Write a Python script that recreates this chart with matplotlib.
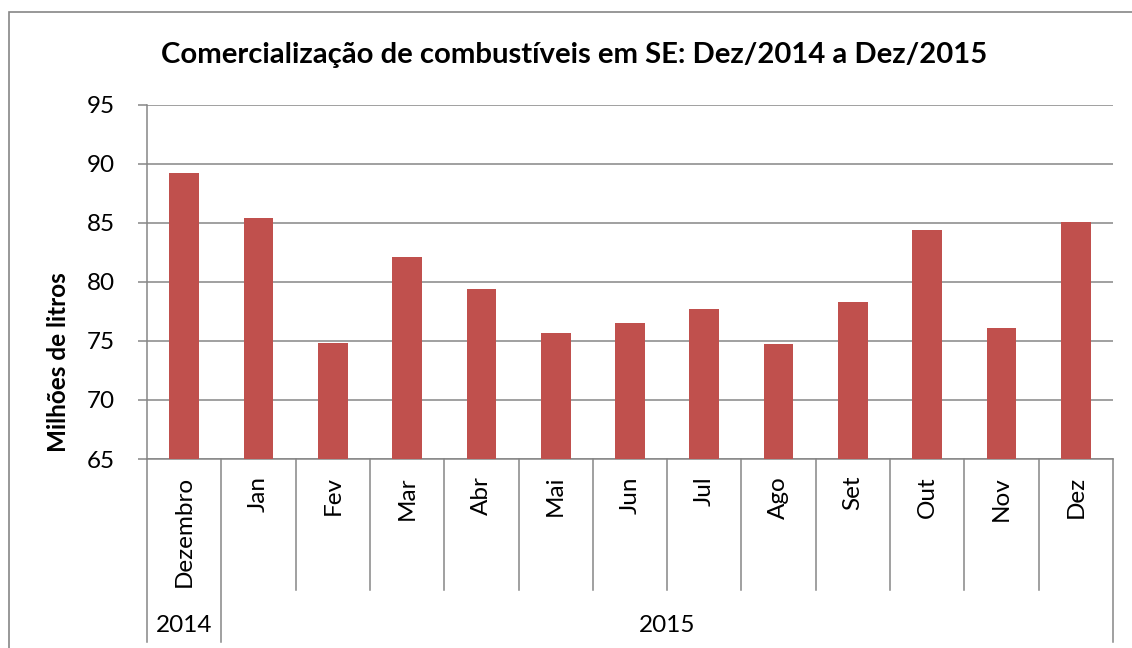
#!/usr/bin/env python3
"""Comercialização de combustíveis em SE, Dez/2014 a Dez/2015 - bar chart."""

import matplotlib
matplotlib.use("Agg")
import matplotlib.pyplot as plt
import matplotlib.patches as mpatches
import matplotlib.transforms as mtransforms
import numpy as np

# ---------------------------------------------------------------------------
# Data
# ---------------------------------------------------------------------------

MONTHS = ["Dezembro", "Jan", "Fev", "Mar", "Abr", "Mai", "Jun",
          "Jul", "Ago", "Set", "Out", "Nov", "Dez"]
VOLUMES = [89.2, 85.4, 74.8, 82.1, 79.4, 75.7, 76.5,
           77.7, 74.75, 78.3, 84.4, 76.1, 85.05]
YEARS = ["2014", "2015"]
YEAR_SPANS = [1, 12]  # months under each year

TITLE = "Comercialização de combustíveis em SE: Dez/2014 a Dez/2015"
YLABEL = "Milhões de litros"

BAR_COLOR = "#C0504D"
GRID_COLOR = "#868686"

plt.rcParams.update({
    "font.family": ["Lato", "DejaVu Sans"],
})

W, H = 1132, 648
AX_L, AX_R, AX_T, AX_B = 147, 1113, 104.7, 459


def py_to_ax(py):
    # figure pixel row -> axes fraction (y)
    return (AX_B - py) / (AX_B - AX_T)


fig = plt.figure(figsize=(W / 100, H / 100), dpi=100)
ax = fig.add_axes([AX_L / W, 1 - AX_B / H, (AX_R - AX_L) / W, (AX_B - AX_T) / H])

x = np.arange(len(MONTHS))
ax.bar(x, VOLUMES, width=0.40, color=BAR_COLOR, zorder=3)

ax.set_xlim(-0.5, len(MONTHS) - 0.5)
ax.set_ylim(65, 95)
ax.set_yticks(range(65, 96, 5))
ax.yaxis.grid(True, color=GRID_COLOR, linewidth=1.1, zorder=0)
ax.set_axisbelow(True)
ax.set_xticks([])
ax.tick_params(axis="y", length=6.5, width=1.1, color=GRID_COLOR,
               pad=16.5, labelsize=17.5, labelcolor="black")

for side in ("top", "right"):
    ax.spines[side].set_visible(False)
for side in ("left", "bottom"):
    ax.spines[side].set_color(GRID_COLOR)
    ax.spines[side].set_linewidth(1.1)

# multi-level category axis
trans = mtransforms.blended_transform_factory(ax.transData, ax.transAxes)
year_edges = set(np.cumsum([0] + YEAR_SPANS) - 0.5)
for b in np.arange(-0.5, len(MONTHS), 1.0):
    bottom = 641.7 if b in year_edges else 590
    ax.plot([b, b], [0, py_to_ax(bottom)], color=GRID_COLOR, lw=1.1,
            transform=trans, clip_on=False)

for xi, m in zip(x, MONTHS):
    ax.text(xi, py_to_ax(476), m, rotation=90, ha="center", va="top",
            fontsize=17.5, transform=trans)

start = 0
for yr, span in zip(YEARS, YEAR_SPANS):
    mid = start + (span - 1) / 2
    ax.text(mid, py_to_ax(625), yr, ha="center", va="center",
            fontsize=17.5, transform=trans)
    start += span

# title, axis label, outer frame
fig.text(574 / W, 1 - 63 / H, TITLE, ha="center", va="baseline",
         fontsize=21.1, fontweight="bold")
fig.text(58 / W, 1 - 362 / H, YLABEL, rotation=90, ha="center", va="center",
         fontsize=17.5, fontweight="bold")
fig.add_artist(mpatches.Rectangle((9 / W, -0.1), 1.2, 1.1 - 12 / H,
                                  transform=fig.transFigure, fill=False,
                                  edgecolor=GRID_COLOR, linewidth=1.2))

fig.savefig("out.png", dpi=100)
